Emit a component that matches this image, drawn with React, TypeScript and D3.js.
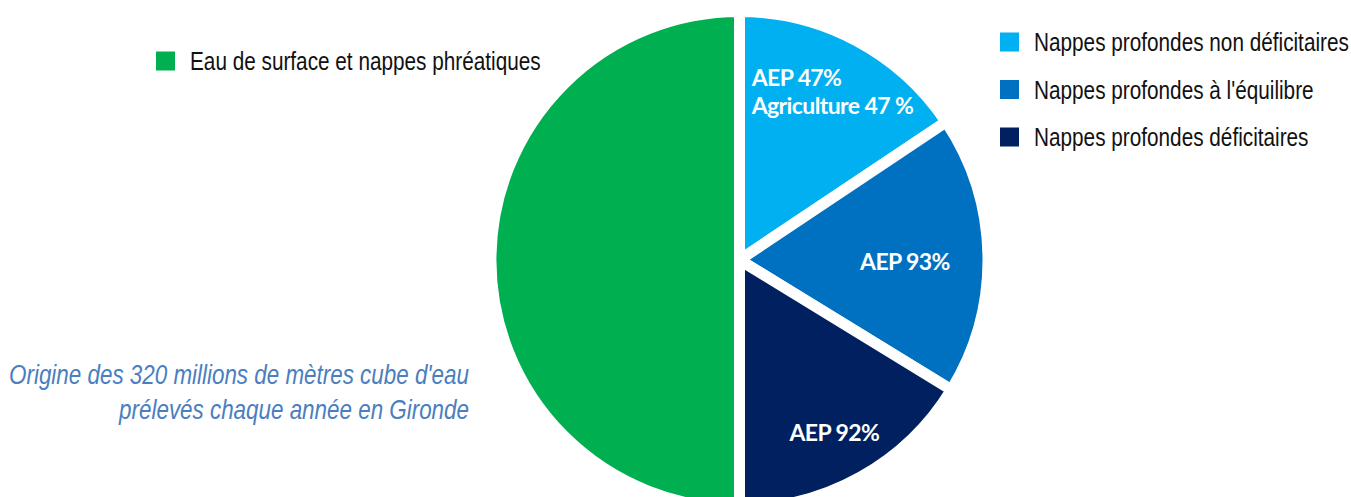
import { useEffect, useRef } from "react";
import * as d3 from "d3";

// slices in drawing order, clockwise from 12 o'clock
const CATEGORIES = [
  "Nappes profondes non déficitaires",
  "Nappes profondes à l'équilibre",
  "Nappes profondes déficitaires",
  "Eau de surface et nappes phréatiques",
];
const VOLUMES = [50, 58, 52, 160]; // millions de m3, total 320
const COLORS = ["#00B0F0", "#0070C0", "#002060", "#00B050"];
const SLICE_LABELS = [["AEP 47%", "Agriculture 47 %"], ["AEP 93%"], ["AEP 92%"], []];
const CAPTION = ["Origine des 320 millions de mètres cube d'eau", "prélevés chaque année en Gironde"];

const W = 1351;
const H = 497;
const CX = 739.5;
const CY = 260;
const GAP = 11; // white separator between slices
const R = 243 + GAP / 2;
const LABEL_R = [196, 165, 193, 0];

// no narrow face installed: squeeze Liberation Sans horizontally
const NARROW_FONT = "'Liberation Sans', Arial, sans-serif";
const NARROW = 0.83;

export default function App() {
  const svgRef = useRef<SVGSVGElement>(null);

  useEffect(() => {
    if (!svgRef.current) return;
    const svg = d3.select(svgRef.current);
    svg.selectAll("*").remove();

    const data = CATEGORIES.map((name, i) => ({ name, value: VOLUMES[i], color: COLORS[i], labels: SLICE_LABELS[i], lr: LABEL_R[i] }));

    const pie = d3
      .pie<(typeof data)[number]>()
      .value((d) => d.value)
      .sort(null)
      .startAngle(0)
      .endAngle(2 * Math.PI);

    const arc = d3.arc<d3.PieArcDatum<(typeof data)[number]>>().innerRadius(0).outerRadius(R);

    const arcs = pie(data);
    const g = svg.append("g").attr("transform", `translate(${CX},${CY})`);

    g.selectAll("path.slice")
      .data(arcs)
      .enter()
      .append("path")
      .attr("class", "slice")
      .attr("d", arc)
      .attr("fill", (d) => d.data.color)
      .attr("stroke", "#fff")
      .attr("stroke-width", GAP)
      .attr("stroke-linejoin", "miter");

    // labels inside slices
    arcs.forEach((d) => {
      if (!d.data.labels.length) return;
      const [lx, ly] = d3.arc<any>().innerRadius(d.data.lr).outerRadius(d.data.lr).centroid(d);
      const lg = g.append("g");
      d.data.labels.forEach((t, j) => {
        lg.append("text")
          .attr("x", 0)
          .attr("y", j * 28)
          .attr("fill", "#fff")
          .style("font-family", "Lato, 'Open Sans', sans-serif")
          .style("font-weight", 700)
          .style("font-size", "23px")
          .style("letter-spacing", "-0.6px")
          .text(t);
      });
      const bb = (lg.node() as SVGGElement).getBBox();
      lg.attr("transform", `translate(${lx - bb.x - bb.width / 2},${ly - bb.y - bb.height / 2 + 4})`);
    });

    const narrowText = (x: number, y: number, label: string, anchor = "start") =>
      svg.append("text")
        .attr("transform", `translate(${x},${y}) scale(${NARROW},1)`)
        .attr("text-anchor", anchor)
        .style("font-family", NARROW_FONT)
        .text(label);

    // legends
    const legendRow = (x: number, y: number, color: string, label: string) => {
      svg.append("rect").attr("x", x).attr("y", y - 9.5).attr("width", 19).attr("height", 19).attr("fill", color);
      narrowText(x + 34, y, label)
        .attr("dy", "0.36em")
        .attr("fill", "#111")
        .style("font-size", "25px");
    };
    legendRow(156, 61, COLORS[3], CATEGORIES[3]);
    [0, 1, 2].forEach((i) => legendRow(1000, 42 + i * 47.5, COLORS[i], CATEGORIES[i]));

    // caption
    CAPTION.forEach((line, i) => {
      narrowText(469, 384 + i * 35, line, "end")
        .attr("fill", "#4A7EBF")
        .style("font-style", "italic")
        .style("font-size", "27px");
    });
  }, []);

  return (
    <svg
      ref={svgRef}
      width={W}
      height={H}
      style={{ position: "absolute", left: 0, top: 0, background: "#fff" }}
    />
  );
}
